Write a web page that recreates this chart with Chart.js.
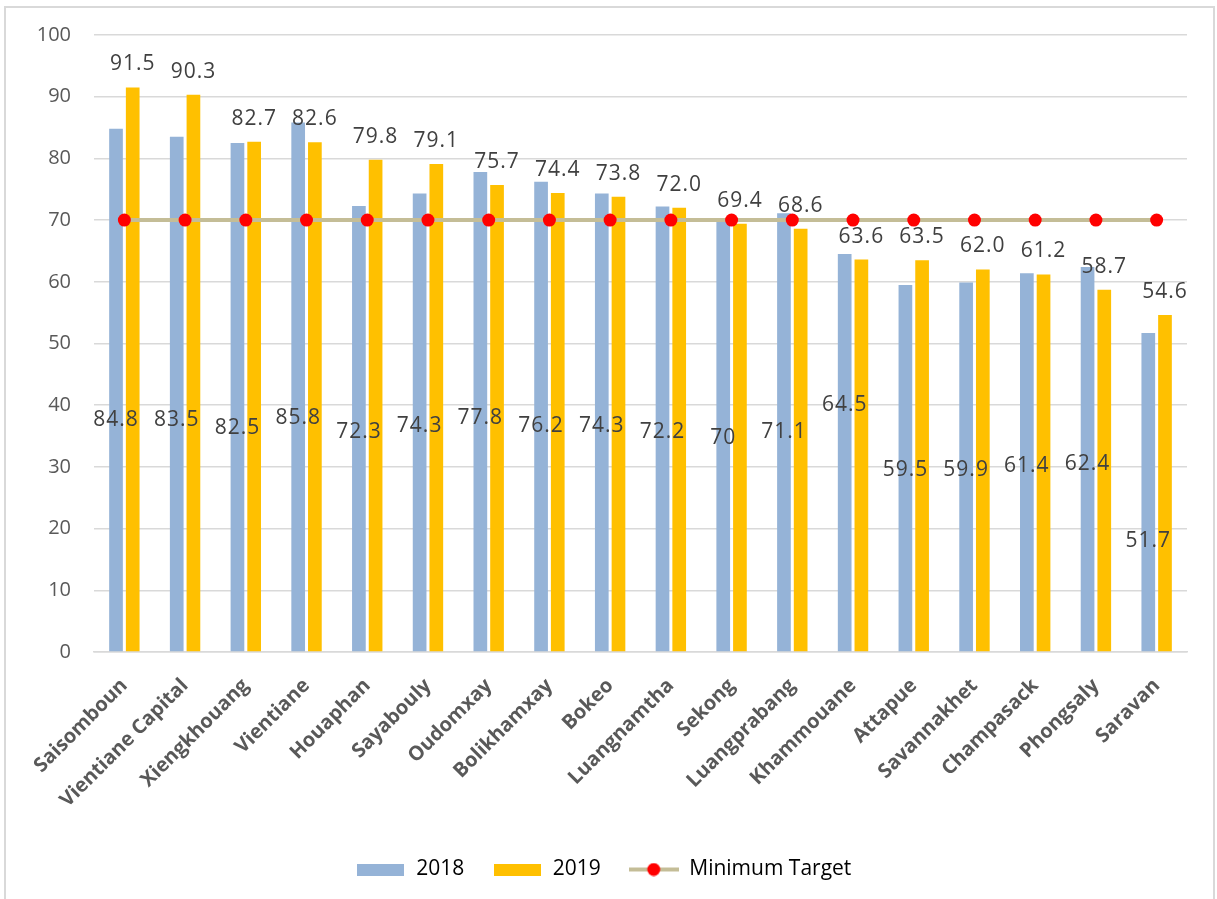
<!DOCTYPE html>
<html>
<head>
<meta charset="utf-8">
<title>Provinces 2018 / 2019</title>
<script src="https://cdn.jsdelivr.net/npm/chart.js@4.4.1/dist/chart.umd.min.js"></script>
<style>
  html, body { margin: 0; padding: 0; background: #fff; }
  body { width: 1217px; height: 899px; position: relative; overflow: hidden; }
  #frame { position: absolute; left: 4px; top: 6px; width: 1207px; height: 960px; border: 2px solid #d9d9d9; }
  #wrap { position: absolute; left: 0; top: 0; width: 1217px; height: 899px; }
</style>
</head>
<body>
<div id="frame"></div>
<div id="wrap"><canvas id="chart"></canvas></div>
<script>
// Provinces, sorted by the 2019 figure
const provinces = [
    'Saisomboun', 'Vientiane Capital', 'Xiengkhouang', 'Vientiane', 'Houaphan',
    'Sayabouly', 'Oudomxay', 'Bolikhamxay', 'Bokeo', 'Luangnamtha', 'Sekong',
    'Luangprabang', 'Khammouane', 'Attapue', 'Savannakhet', 'Champasack',
    'Phongsaly', 'Saravan'
];
const values2018 = [84.8, 83.5, 82.5, 85.8, 72.3, 74.3, 77.8, 76.2, 74.3, 72.2, 70, 71.1, 64.5, 59.5, 59.9, 61.4, 62.4, 51.7];
const values2019 = [91.5, 90.3, 82.7, 82.6, 79.8, 79.1, 75.7, 74.4, 73.8, 72.0, 69.4, 68.6, 63.6, 63.5, 62.0, 61.2, 58.7, 54.6];
const minimumTarget = [70, 70, 70, 70, 70, 70, 70, 70, 70, 70, 70, 70, 70, 70, 70, 70, 70, 70];

// height (axis units) at which each 2018 value label is written
const label2018At = [37.6, 37.6, 36.3, 37.9, 35.7, 36.6, 37.9, 36.6, 36.6, 35.7, 34.7, 35.7, 40.0, 29.5, 29.5, 30.1, 30.5, 18.0];

const COLOR_2018 = '#95b3d7';
const COLOR_2019 = '#ffc000';
const COLOR_TARGET = '#c4bd97';
const COLOR_DOT = '#ff0000';

/**
 * Small canvases used as legend swatches
 */
function swatch(w, h, draw) {
    const c = document.createElement('canvas');
    c.width = w;
    c.height = h;
    draw(c.getContext('2d'), w, h);
    return c;
}

const boxSwatch = color => swatch(47, 12, (ctx, w, h) => {
    ctx.fillStyle = color;
    ctx.fillRect(0, 0, w, h);
});

const targetSwatch = swatch(50, 14, (ctx, w, h) => {
    ctx.fillStyle = COLOR_TARGET;
    ctx.fillRect(0, h / 2 - 2, w, 4);
    ctx.fillStyle = COLOR_DOT;
    ctx.beginPath();
    ctx.arc(w / 2, h / 2, 6.5, 0, Math.PI * 2);
    ctx.fill();
});

/**
 * Value labels: 2018 inside the bar, 2019 above the bar
 */
const valueLabels = {
    id: 'valueLabels',
    afterDatasetsDraw(chart) {
        const ctx = chart.ctx;
        const yScale = chart.scales.y;
        ctx.save();
        ctx.font = '21px "Open Sans"';
        ctx.letterSpacing = '1px';
        ctx.fillStyle = '#404040';
        ctx.textAlign = 'center';
        ctx.textBaseline = 'middle';
        chart.getDatasetMeta(1).data.forEach((bar, i) => {
            ctx.fillText(String(values2018[i]), bar.x, yScale.getPixelForValue(label2018At[i]));
        });
        chart.getDatasetMeta(2).data.forEach((bar, i) => {
            ctx.fillText(values2019[i].toFixed(1), bar.x, bar.y - 23);
        });
        ctx.restore();
    }
};

Chart.defaults.font.family = '"Open Sans", sans-serif';

new Chart(document.getElementById('chart'), {
    data: {
        labels: provinces,
        datasets: [
            {
                type: 'line',
                label: 'Minimum Target',
                data: minimumTarget,
                borderColor: COLOR_TARGET,
                borderWidth: 4,
                pointBackgroundColor: COLOR_DOT,
                pointBorderColor: COLOR_DOT,
                pointRadius: 6.5,
                pointBorderWidth: 0,
                tension: 0
            },
            {
                type: 'bar',
                label: '2018',
                data: values2018,
                backgroundColor: COLOR_2018,
                categoryPercentage: 0.55,
                barPercentage: 0.82
            },
            {
                type: 'bar',
                label: '2019',
                data: values2019,
                backgroundColor: COLOR_2019,
                categoryPercentage: 0.55,
                barPercentage: 0.82
            }
        ]
    },
    options: {
        responsive: true,
        maintainAspectRatio: false,
        animation: false,
        layout: {
            padding: { left: 20, right: 30, top: 35, bottom: 9 }
        },
        plugins: {
            title: { display: false },
            tooltip: { enabled: false },
            legend: {
                position: 'bottom',
                labels: {
                    usePointStyle: true,
                    pointStyleWidth: 50,
                    boxHeight: 14,
                    padding: 28,
                    color: '#595959',
                    font: { size: 21 },
                    generateLabels: () => [
                        { text: '2018', pointStyle: boxSwatch(COLOR_2018), fillStyle: COLOR_2018, strokeStyle: COLOR_2018, lineWidth: 0, hidden: false, datasetIndex: 1 },
                        { text: '2019', pointStyle: boxSwatch(COLOR_2019), fillStyle: COLOR_2019, strokeStyle: COLOR_2019, lineWidth: 0, hidden: false, datasetIndex: 2 },
                        { text: 'Minimum Target', pointStyle: targetSwatch, fillStyle: COLOR_DOT, strokeStyle: COLOR_TARGET, lineWidth: 0, hidden: false, datasetIndex: 0 }
                    ]
                }
            }
        },
        scales: {
            x: {
                grid: { display: false },
                border: { color: '#d9d9d9', width: 1.5 },
                ticks: {
                    autoSkip: false,
                    maxRotation: 45,
                    minRotation: 45,
                    padding: 14,
                    color: '#595959',
                    font: { size: 20, weight: 'bold' }
                },
                afterFit: scale => { scale.height = 179; }
            },
            y: {
                min: 0,
                max: 100,
                grid: { color: '#d9d9d9', lineWidth: 1.5, drawTicks: false },
                border: { display: false },
                ticks: {
                    stepSize: 10,
                    padding: 23,
                    color: '#595959',
                    font: { size: 20 }
                },
                afterFit: scale => { scale.width = 74; }
            }
        }
    },
    plugins: [valueLabels]
});
</script>
</body>
</html>
